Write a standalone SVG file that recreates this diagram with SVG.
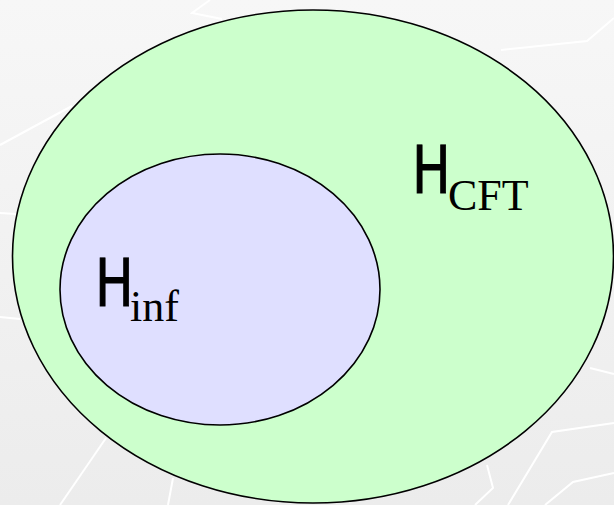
<svg xmlns="http://www.w3.org/2000/svg" width="614" height="505" viewBox="0 0 614 505">
  <defs>
    <linearGradient id="bg" x1="0" y1="0" x2="0" y2="1">
      <stop offset="0" stop-color="#f7f7f7"/>
      <stop offset="1" stop-color="#ececec"/>
    </linearGradient>
  </defs>
  <style>
    .tex { fill: none; stroke: #ffffff; stroke-width: 2; stroke-linejoin: miter; }
    .set { stroke: #000000; stroke-width: 1.6; }
    .big { font-family: 'DejaVu Sans', sans-serif; font-size: 66px; fill: #000000; stroke: #000000; stroke-width: 0.9; }
    .sub { font-family: 'Liberation Serif', 'Times New Roman', serif; font-size: 44px; fill: #000000; }
  </style>
  <rect x="0" y="0" width="614" height="505" fill="url(#bg)"/>
  <g id="texture">
    <polyline class="tex" points="210,0 192,13 222,19"/>
    <polyline class="tex" points="0,145 72,106"/>
    <polyline class="tex" points="501,50 587,41 614,18"/>
    <polyline class="tex" points="0,213 16,214"/>
    <polyline class="tex" points="0,317 20,319"/>
    <polyline class="tex" points="60,505 106,438"/>
    <polyline class="tex" points="168,505 173,478"/>
    <polyline class="tex" points="590,368 614,374"/>
    <polyline class="tex" points="487,465 493,488 475,505"/>
    <polyline class="tex" points="508,505 552,432 614,423"/>
    <polyline class="tex" points="545,505 573,482 614,473"/>
  </g>
  <g id="H_CFT">
    <ellipse class="set" cx="313" cy="256.5" rx="300.5" ry="246.5" fill="#ccffcc"/>
    <text class="big" transform="translate(417,193) scale(0.78,1)" x="-6.5" y="0">H</text>
    <text class="sub" x="448" y="210">CFT</text>
  </g>
  <g id="H_inf">
    <ellipse class="set" cx="220" cy="289.5" rx="160" ry="135.5" fill="#dfdfff"/>
    <text class="big" transform="translate(100,306) scale(0.78,1)" x="-6.5" y="0">H</text>
    <text class="sub" x="130" y="321">inf</text>
  </g>
  <g id="connectors"/>
</svg>
